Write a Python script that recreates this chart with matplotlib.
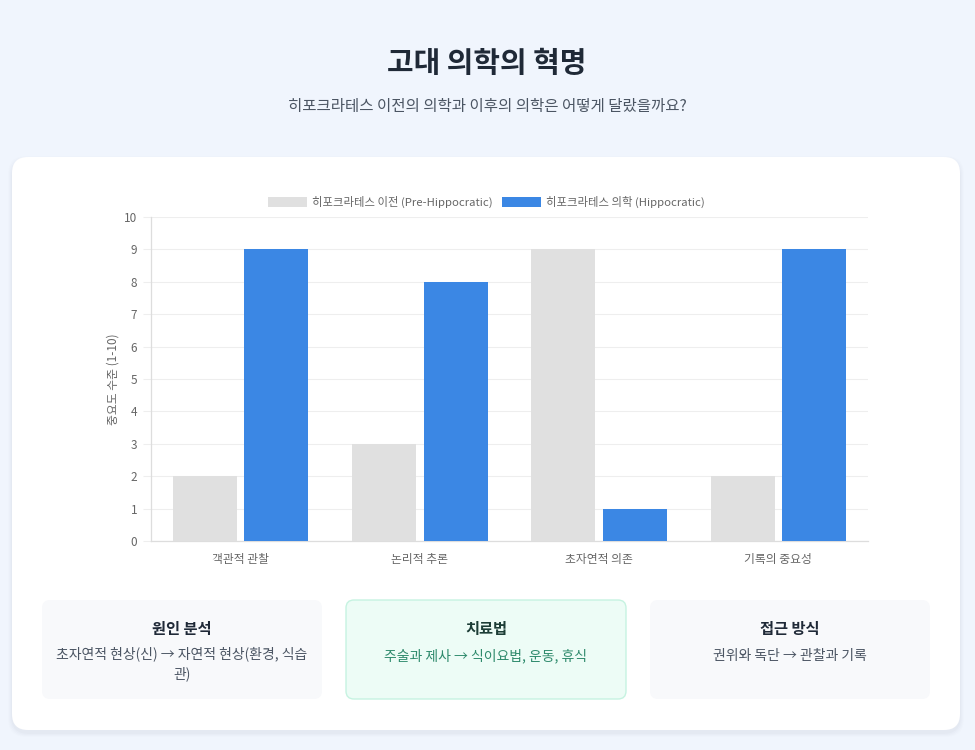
import matplotlib
matplotlib.use("Agg")
import matplotlib.pyplot as plt
from matplotlib.patches import FancyBboxPatch
import numpy as np

plt.rcParams['font.family'] = ['Noto Sans CJK KR', 'DejaVu Sans']

# ---- data ----
categories = ["객관적 관찰", "논리적 추론", "초자연적 의존", "기록의 중요성"]
pre_values = [2, 3, 9, 2]
hippo_values = [9, 8, 1, 9]
series_labels = ["히포크라테스 이전 (Pre-Hippocratic)", "히포크라테스 의학 (Hippocratic)"]
y_ticks = list(range(0, 11))
title = "고대 의학의 혁명"
subtitle = "히포크라테스 이전의 의학과 이후의 의학은 어떻게 달랐을까요?"
y_label = "중요도 수준 (1-10)"
card_titles = ["원인 분석", "치료법", "접근 방식"]
card_texts = ["초자연적 현상(신) → 자연적 현상(환경, 식습\n관)",
              "주술과 제사 → 식이요법, 운동, 휴식",
              "권위와 독단 → 관찰과 기록"]

W, H = 975, 750
fig = plt.figure(figsize=(W / 100, H / 100), dpi=100)
fig.patch.set_facecolor('#f0f5fd')

bg = fig.add_axes([0, 0, 1, 1], zorder=-1)
bg.set_xlim(0, W)
bg.set_ylim(H, 0)
bg.axis('off')
bg.set_facecolor('none')

# card shadow
for i, a in enumerate([0.02, 0.015, 0.012, 0.008]):
    s = 2 + i * 2
    bg.add_patch(FancyBboxPatch((12 - s / 2, 157 - s / 2 + 3), 948 + s, 573 + s,
                                boxstyle="round,pad=0,rounding_size=18",
                                facecolor='#334155', alpha=a, edgecolor='none'))
bg.add_patch(FancyBboxPatch((12, 157), 948, 573, boxstyle="round,pad=0,rounding_size=16",
                            facecolor='white', edgecolor='none'))

bg.text(487, 63, title, ha='center', va='center', fontsize=20.8, fontweight='bold', color='#1f2937')
bg.text(487, 107, subtitle, ha='center', va='center', fontsize=11.2, color='#4b5563')

# bottom cards
card_x = [42, 346, 650]
card_w = 280
for i in range(3):
    if i == 1:
        fc, ec, tc, bc = '#edfcf6', '#c6f3e1', '#1c3d36', '#2e8a6c'
    else:
        fc, ec, tc, bc = '#f8f9fb', 'none', '#1f2937', '#4b5563'
    bg.add_patch(FancyBboxPatch((card_x[i], 600), card_w, 99,
                                boxstyle="round,pad=0,rounding_size=8",
                                facecolor=fc, edgecolor=ec, linewidth=1))
    cx = card_x[i] + card_w / 2
    bg.text(cx, 629, card_titles[i], ha='center', va='center', fontsize=11,
            fontweight='bold', color=tc)
    two = '\n' in card_texts[i]
    bg.text(cx, 646 if two else 656, card_texts[i], ha='center', va='top' if two else 'center',
            fontsize=10, color=bc, linespacing=1.45)

# ---- chart ----
left, right = 151 / W, 868 / W
bottom, top = 1 - 541 / H, 1 - 217 / H
ax = fig.add_axes([left, bottom, right - left, top - bottom])
ax.set_facecolor('none')

x = np.arange(len(categories))
bw = 0.357
off = 0.2
b1 = ax.bar(x - off, pre_values, width=bw, color='#e0e0e0', label=series_labels[0], zorder=3)
b2 = ax.bar(x + off, hippo_values, width=bw, color='#3b87e4', label=series_labels[1], zorder=3)

ax.set_xlim(-0.5, len(categories) - 0.5)
ax.set_ylim(0, 10)
ax.set_yticks(y_ticks)
ax.set_xticks(x)
ax.set_xticklabels(categories)
ax.tick_params(axis='x', length=0, pad=9, labelsize=8.5, labelcolor='#666666')
ax.tick_params(axis='y', length=6, pad=4, labelsize=8.5, labelcolor='#666666', color='#eeeeee')
ax.yaxis.grid(True, color='#eeeeee', linewidth=0.8, zorder=0)
ax.xaxis.grid(False)
for s in ['top', 'right']:
    ax.spines[s].set_visible(False)
for s in ['left', 'bottom']:
    ax.spines[s].set_color('#dddddd')
    ax.spines[s].set_linewidth(0.9)
ax.set_ylabel(y_label, fontsize=8.5, color='#666666', labelpad=3)

leg = fig.legend(handles=[b1, b2], labels=series_labels, loc='center',
                 bbox_to_anchor=(486.5 / W, 1 - 202 / H), ncol=2, frameon=False,
                 fontsize=8.2, handlelength=3.4, handleheight=0.95, columnspacing=0.85,
                 handletextpad=0.45)
for t in leg.get_texts():
    t.set_color('#666666')

fig.savefig('out.png', dpi=100, facecolor=fig.get_facecolor())
